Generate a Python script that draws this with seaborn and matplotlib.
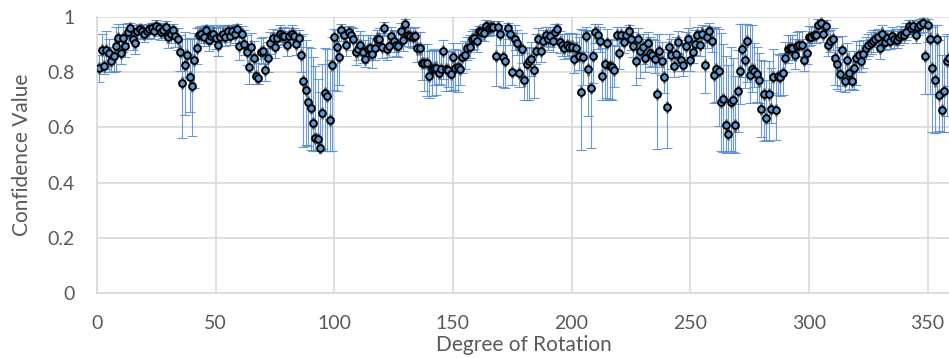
import matplotlib
matplotlib.use("Agg")
import matplotlib.pyplot as plt
from matplotlib.ticker import FuncFormatter
import numpy as np
import pandas as pd
import seaborn as sns

# Rotation angles (degrees) and mean confidence per angle
degrees = list(range(1, 360))

confidence = [
    .814, .88, .824, .88, .87, .84, .86, .895, .923, .87,
    .923, .895, .947, .96, .92, .907, .95, .955, .95, .94,
    .95, .955, .96, .95, .968, .96, .947, .953, .965, .927,
    .937, .953, .93, .92, .875, .761, .826, .862, .784, .749,
    .843, .889, .935, .937, .926, .952, .917, .932, .94, .925,
    .90, .926, .94, .926, .95, .93, .95, .937, .955, .895,
    .937, .903, .875, .818, .893, .852, .787, .778, .873, .878,
    .808, .851, .907, .925, .893, .923, .94, .93, .932, .899,
    .93, .94, .93, .902, .923, .862, .768, .736, .693, .669,
    .615, .563, .557, .527, .651, .726, .714, .626, .826, .926,
    .893, .854, .953, .935, .899, .947, .935, .92, .875, .884,
    .899, .875, .848, .884, .886, .865, .886, .922, .92, .893,
    .961, .884, .896, .932, .914, .899, .896, .949, .917, .973,
    .935, .932, .929, .932, .886, .886, .832, .832, .832, .788,
    .812, .814, .817, .798, .812, .877, .812, .808, .792, .856,
    .814, .82, .812, .856, .862, .886, .893, .92, .925, .913,
    .949, .947, .943, .968, .961, .965, .965, .86, .965, .94,
    .856, .842, .959, .94, .802, .922, .904, .798, .883, .77,
    .829, .841, .848, .808, .878, .92, .878, .914, .935, .922,
    .932, .914, .944, .955, .908, .899, .889, .90, .893, .893,
    .848, .889, .858, .728, .854, .932, .81, .744, .86, .944,
    .935, .914, .788, .829, .907, .822, .818, .808, .935, .871,
    .935, .911, .935, .951, .92, .896, .842, .92, .878, .89,
    .85, .907, .868, .862, .848, .72, .878, .841, .784, .675,
    .89, .862, .822, .866, .911, .846, .826, .895, .92, .846,
    .875, .902, .935, .899, .94, .826, .926, .949, .914, .79,
    .812, .805, .693, .702, .609, .575, .693, .70, .607, .732,
    .805, .883, .844, .913, .79, .81, .806, .793, .77, .666,
    .72, .633, .72, .666, .784, .663, .786, .782, .798, .85,
    .884, .886, .886, .862, .896, .90, .90, .846, .871, .926,
    .928, .935, .935, .971, .979, .938, .968, .899, .914, .919,
    .852, .828, .792, .881, .769, .846, .796, .769, .817, .852,
    .862, .84, .865, .889, .90, .907, .913, .922, .928, .889,
    .94, .911, .924, .913, .932, .919, .917, .928, .936, .935,
    .947, .968, .959, .968, .936, .965, .971, .977, .86, .971,
    .922, .814, .77, .92, .717, .663, .732, .84, .85,
]

# Distance from the mean down to the lower bound
err_minus = [
    .05, .06, .03, .07, .07, .04, .06, .09, .06, .04,
    .05, .04, .04, .03, .04, .04, .03, .03, .03, .03,
    .03, .03, .02, .03, .02, .03, .03, .03, .03, .04,
    .03, .03, .04, .04, .07, .20, .18, .08, .13, .18,
    .10, .06, .04, .03, .03, .03, .04, .03, .03, .04,
    .04, .03, .03, .03, .03, .03, .03, .03, .03, .05,
    .04, .04, .05, .06, .05, .05, .03, .02, .04, .05,
    .04, .05, .04, .03, .04, .03, .03, .03, .03, .04,
    .03, .03, .03, .04, .03, .06, .24, .20, .16, .15,
    .10, .05, .04, .01, .13, .21, .20, .11, .31, .19,
    .16, .10, .04, .04, .04, .04, .03, .04, .05, .04,
    .04, .04, .03, .04, .04, .05, .04, .04, .04, .04,
    .03, .04, .04, .04, .04, .04, .04, .04, .04, .03,
    .04, .04, .04, .04, .05, .05, .06, .10, .12, .08,
    .10, .06, .10, .04, .06, .10, .08, .06, .06, .12,
    .08, .09, .06, .06, .05, .04, .04, .04, .04, .04,
    .03, .03, .03, .03, .03, .03, .03, .11, .03, .04,
    .11, .10, .04, .04, .05, .04, .04, .05, .05, .07,
    .13, .14, .06, .10, .05, .04, .04, .04, .04, .04,
    .04, .04, .03, .03, .04, .04, .04, .04, .04, .03,
    .05, .04, .05, .21, .10, .06, .17, .22, .10, .04,
    .05, .04, .09, .13, .20, .12, .12, .06, .04, .06,
    .03, .04, .03, .03, .04, .04, .09, .07, .10, .06,
    .05, .04, .05, .04, .05, .20, .06, .05, .06, .15,
    .04, .05, .04, .04, .04, .04, .04, .04, .04, .04,
    .04, .04, .03, .04, .03, .10, .04, .03, .04, .10,
    .12, .20, .18, .19, .10, .06, .18, .19, .10, .15,
    .12, .10, .10, .15, .10, .08, .06, .10, .08, .10,
    .17, .08, .17, .05, .06, .11, .07, .07, .08, .05,
    .05, .04, .04, .05, .04, .04, .04, .04, .04, .03,
    .03, .03, .03, .03, .03, .03, .03, .04, .04, .04,
    .10, .09, .06, .13, .04, .09, .06, .03, .08, .10,
    .06, .04, .05, .04, .04, .04, .04, .03, .03, .04,
    .03, .03, .03, .03, .03, .03, .03, .03, .03, .03,
    .03, .03, .03, .03, .03, .03, .03, .03, .14, .06,
    .20, .23, .19, .20, .13, .08, .15, .20, .10,
]

# Distance from the mean up to the upper bound
err_plus = [
    .05, .06, .04, .07, .05, .05, .06, .07, .05, .07,
    .05, .07, .03, .02, .05, .05, .02, .02, .02, .03,
    .02, .02, .02, .02, .02, .02, .03, .02, .02, .04,
    .03, .02, .03, .04, .06, .16, .12, .06, .14, .17,
    .10, .07, .03, .03, .04, .02, .05, .03, .03, .04,
    .06, .04, .03, .04, .02, .04, .02, .03, .02, .06,
    .03, .05, .06, .08, .05, .06, .08, .07, .05, .05,
    .08, .06, .04, .03, .05, .03, .03, .03, .03, .05,
    .03, .03, .03, .05, .03, .07, .17, .18, .20, .22,
    .24, .26, .22, .20, .18, .16, .17, .22, .10, .03,
    .06, .08, .02, .03, .05, .02, .03, .04, .06, .05,
    .05, .06, .07, .05, .05, .06, .05, .03, .04, .05,
    .02, .05, .04, .03, .04, .05, .05, .03, .04, .02,
    .03, .03, .03, .03, .06, .06, .07, .07, .07, .09,
    .07, .07, .06, .08, .07, .04, .07, .07, .08, .05,
    .07, .06, .07, .05, .05, .04, .04, .03, .03, .04,
    .02, .02, .03, .02, .02, .02, .02, .10, .02, .03,
    .10, .11, .02, .03, .12, .05, .05, .10, .06, .10,
    .06, .05, .06, .08, .06, .04, .06, .04, .03, .04,
    .03, .04, .03, .02, .04, .04, .05, .04, .05, .05,
    .06, .05, .07, .23, .10, .03, .14, .21, .09, .03,
    .04, .05, .10, .08, .05, .10, .10, .09, .03, .06,
    .03, .04, .03, .02, .04, .05, .08, .04, .06, .05,
    .07, .04, .06, .06, .07, .22, .06, .07, .10, .20,
    .05, .06, .08, .06, .04, .07, .08, .05, .04, .07,
    .06, .05, .03, .05, .03, .13, .04, .03, .05, .17,
    .15, .15, .25, .20, .25, .25, .20, .15, .18, .15,
    .17, .09, .13, .06, .18, .16, .10, .10, .10, .18,
    .12, .14, .12, .15, .10, .13, .08, .08, .07, .06,
    .05, .05, .05, .06, .05, .05, .05, .06, .05, .04,
    .04, .03, .03, .02, .01, .03, .02, .05, .04, .04,
    .08, .10, .10, .05, .08, .06, .08, .07, .06, .06,
    .05, .06, .05, .04, .04, .04, .04, .03, .03, .05,
    .03, .04, .03, .04, .03, .03, .04, .03, .03, .03,
    .03, .02, .02, .02, .04, .02, .02, .02, .11, .02,
    .05, .15, .20, .05, .20, .20, .20, .10, .08,
]

x_ticks = [0, 50, 100, 150, 200, 250, 300, 350]
y_ticks = [0, 0.2, 0.4, 0.6, 0.8, 1.0]

df = pd.DataFrame({"Degree": degrees, "Confidence": confidence,
                   "lo": err_minus, "hi": err_plus})

sns.set_style("whitegrid")
plt.rcParams["font.family"] = ["Lato", "DejaVu Sans"]

text_col = "#595959"
grid_col = "#D9D9D9"

fig = plt.figure(figsize=(9.49, 3.58), dpi=100)
W, H = 949, 358
ax = fig.add_axes([97 / W, 65 / H, 854.3 / W, 276 / H])

# Error bars (blue) and a small dark halo behind each marker
ax.errorbar(df["Degree"], df["Confidence"], yerr=[df["lo"], df["hi"]],
            fmt="none", ecolor="#5B8FD3", elinewidth=0.8, capsize=3.6,
            capthick=0.8, alpha=0.9, zorder=2)
ax.errorbar(df["Degree"], df["Confidence"], yerr=0.022, fmt="none",
            ecolor="#3C3C3C", elinewidth=2.0, alpha=0.7, zorder=3)

sns.scatterplot(data=df, x="Degree", y="Confidence", ax=ax, s=24,
                color="#5B9BD5", edgecolor="black", linewidth=1.4,
                zorder=4, legend=False)

ax.set_xlim(0, 360)
ax.set_ylim(0, 1)
ax.set_xticks(x_ticks)
ax.set_yticks(y_ticks)
ax.yaxis.set_major_formatter(FuncFormatter(lambda v, p: f"{v:g}"))

ax.grid(True, color=grid_col, linewidth=1.2)
ax.set_axisbelow(True)
for side in ("top", "right"):
    ax.spines[side].set_visible(False)
for side in ("left", "bottom"):
    ax.spines[side].set_color(grid_col)
    ax.spines[side].set_linewidth(1.2)

ax.tick_params(axis="both", length=0, labelsize=14, colors=text_col)
ax.tick_params(axis="x", pad=16)
ax.tick_params(axis="y", pad=16)

ax.set_xlabel("Degree of Rotation", fontsize=15, color=text_col)
ax.set_ylabel("Confidence Value", fontsize=15, color=text_col)
ax.xaxis.set_label_coords(0.4993, -0.188)
ax.xaxis.label.set_va("center")
ax.yaxis.set_label_coords(-0.0878, 0.5)
ax.yaxis.label.set_va("center")

fig.savefig("out.png", dpi=100)
